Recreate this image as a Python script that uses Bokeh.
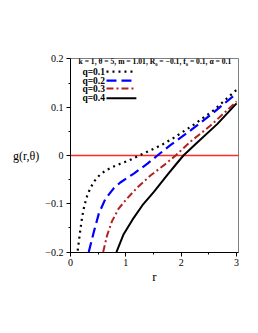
from bokeh.plotting import figure
from bokeh.models import (Range1d, FixedTicker, CustomJSTickFormatter, Label, Arrow)
from bokeh.embed import file_html
from bokeh.resources import INLINE

# ---- data ----
r_q01 = [0.13, 0.15, 0.18, 0.21, 0.25, 0.30, 0.36, 0.44, 0.53, 0.65, 0.78, 0.90, 1.06, 1.24, 1.45, 1.65, 1.87, 2.23, 2.59, 2.92, 3.0]
g_q01 = [-0.197, -0.179, -0.152, -0.128, -0.104, -0.084, -0.067, -0.052, -0.040, -0.030, -0.023, -0.017, -0.010, 0.0, 0.011, 0.022, 0.037, 0.064, 0.094, 0.128, 0.136]

r_q02 = [0.33, 0.42, 0.51, 0.63, 0.78, 0.90, 1.15, 1.39, 1.57, 1.81, 2.17, 2.53, 2.95, 3.0]
g_q02 = [-0.200, -0.159, -0.121, -0.090, -0.068, -0.056, -0.037, -0.017, 0.0, 0.022, 0.052, 0.084, 0.124, 0.129]

r_q03 = [0.59, 0.66, 0.75, 0.87, 1.00, 1.21, 1.45, 1.69, 1.90, 2.17, 2.53, 2.98, 3.0]
g_q03 = [-0.200, -0.166, -0.136, -0.110, -0.092, -0.066, -0.041, -0.020, 0.0, 0.029, 0.062, 0.110, 0.112]

r_q04 = [0.83, 0.96, 1.12, 1.30, 1.51, 1.75, 1.93, 2.04, 2.29, 2.65, 3.0]
g_q04 = [-0.200, -0.163, -0.133, -0.103, -0.075, -0.040, -0.015, 0.0, 0.027, 0.065, 0.108]

# reference line g = 0 across the whole r range
zero_r = [0.0, 3.035]
zero_g = [0.0, 0.0]

series_labels = ["q=0.1", "q=0.2", "q=0.3", "q=0.4"]
x_ticks = [0, 1, 2, 3]
x_minor = [0.5, 1.5, 2.5]
y_ticks = [-0.2, -0.1, 0, 0.1, 0.2]
y_minor = [-0.15, -0.05, 0.05, 0.15]
title_text = "k = 1, \u03b8 = 5, m = 1.01, R\u2080 = \u22120.1, f\u2080 = 0.1, \u03b1 = 0.1"

SERIF = "Liberation Serif"

p = figure(width=258, height=333, output_backend="svg", toolbar_location=None,
           x_range=Range1d(0, 3.035), y_range=Range1d(-0.201, 0.201),
           min_border_left=70, min_border_right=20, min_border_top=58, min_border_bottom=81)
p.background_fill_color = "white"
p.border_fill_color = "white"
p.outline_line_color = "#808080"
p.grid.visible = False

styles = [
    dict(x=r_q01, y=g_q01, color="black", dash="2 4", width=2.2),
    dict(x=r_q02, y=g_q02, color="#0000ff", dash="10 5", width=2.2),
    dict(x=r_q03, y=g_q03, color="#b22222", dash="7 3 2 3", width=2.0),
    dict(x=r_q04, y=g_q04, color="black", dash="solid", width=2.0),
]

p.line(zero_r, zero_g, line_color="#ff2a2a", line_width=1.3)

for s in styles:
    p.line(s["x"], s["y"], line_color=s["color"], line_dash=s["dash"], line_width=s["width"],
           line_join="round")

fmt = CustomJSTickFormatter(code="""
if (Math.abs(tick) < 1e-9) return '0';
var s = tick.toFixed(1);
if (Math.abs(tick - Math.round(tick)) < 1e-9) s = tick.toFixed(0);
return s.replace('-', '\\u2212');
""")

for ax in (p.xaxis[0], p.yaxis[0]):
    ax.major_label_text_font = SERIF
    ax.major_label_text_font_size = "10px"
    ax.major_label_text_color = "black"
    ax.major_tick_in = 0
    ax.major_tick_out = 4
    ax.minor_tick_in = 0
    ax.minor_tick_out = 2
    ax.axis_line_color = "black"
    ax.major_tick_line_color = "black"
    ax.minor_tick_line_color = "black"
    ax.axis_label_text_font = SERIF
    ax.axis_label_text_font_style = "normal"
    ax.axis_label_text_color = "black"
    ax.formatter = fmt

p.xaxis[0].ticker = FixedTicker(ticks=x_ticks, minor_ticks=x_minor)
p.yaxis[0].ticker = FixedTicker(ticks=y_ticks, minor_ticks=y_minor)
p.xaxis[0].major_label_standoff = 2
p.yaxis[0].major_label_standoff = 3
p.xaxis[0].axis_label = "r"
p.xaxis[0].axis_label_text_font_size = "13px"
p.xaxis[0].axis_label_standoff = 0
p.yaxis[0].axis_label = "g(r,\u03b8)"
p.yaxis[0].axis_label_text_font_size = "12px"
p.yaxis[0].axis_label_orientation = "horizontal"
p.yaxis[0].axis_label_standoff = 3

# ---- legend drawn as annotations (label then sample line) ----
p.add_layout(Label(x=0.145, y=0.1945, text=title_text, text_font=SERIF,
                   text_font_style="bold", text_font_size="7.6px",
                   text_baseline="middle", text_color="black"))
item_y = [0.1738, 0.1552, 0.1386, 0.1186]
for lab, yy, s in zip(series_labels, item_y, styles):
    p.add_layout(Label(x=0.215, y=yy, text=lab, text_font=SERIF, text_font_style="bold",
                       text_font_size="9.5px", text_baseline="middle", text_color="black"))
    p.add_layout(Arrow(x_start=0.65, y_start=yy, x_end=1.19, y_end=yy, end=None, start=None,
                       line_color=s["color"], line_dash=s["dash"], line_width=s["width"]))

open("out.html", "w").write(file_html(p, INLINE))
